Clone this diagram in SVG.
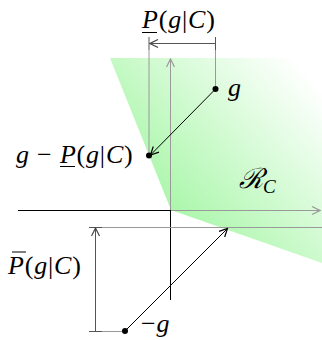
<svg xmlns="http://www.w3.org/2000/svg" width="322" height="340" viewBox="0 0 322 340">
<style>
.lbl{font-family:'Liberation Serif',serif;font-size:26px;letter-spacing:0.8px;fill:#000}
.it{font-style:italic}
.gray{stroke:#999;stroke-width:1;fill:none}
.dk{stroke:#555;stroke-width:1;fill:none}
.blk{stroke:#000;stroke-width:1;fill:none}
</style>
<defs>
<linearGradient id="gr" gradientUnits="userSpaceOnUse" x1="135" y1="215" x2="300" y2="65">
<stop offset="0" stop-color="#9ef59e"/>
<stop offset="1" stop-color="#ffffff"/>
</linearGradient>
<marker id="ag" viewBox="0 0 10 10" refX="9" refY="5" markerWidth="10" markerHeight="10" markerUnits="userSpaceOnUse" orient="auto">
<path d="M1,1 L9,5 L1,9" fill="none" stroke="#999" stroke-width="1.2"/>
</marker>
<marker id="ad" viewBox="0 0 10 10" refX="9" refY="5" markerWidth="10" markerHeight="10" markerUnits="userSpaceOnUse" orient="auto">
<path d="M1,1 L9,5 L1,9" fill="none" stroke="#444" stroke-width="1.2"/>
</marker>
<marker id="ab" viewBox="0 0 10 10" refX="9" refY="5" markerWidth="10" markerHeight="10" markerUnits="userSpaceOnUse" orient="auto">
<path d="M1,1 L9,5 L1,9" fill="none" stroke="#000" stroke-width="1.2"/>
</marker>
</defs>
<g id="region">
<polygon points="110,58 322,58 322,263 171,210" fill="url(#gr)"/>
</g>
<g id="connectors">
<line class="blk" x1="18" y1="210.5" x2="171" y2="210.5"/>
<line class="blk" x1="170.5" y1="210" x2="170.5" y2="300"/>
<line class="gray" x1="171" y1="210.5" x2="320" y2="210.5" marker-end="url(#ag)"/>
<line class="gray" x1="170.5" y1="210" x2="170.5" y2="59" marker-end="url(#ag)"/>
<line class="gray" x1="149" y1="50" x2="149" y2="156"/>
<line class="gray" x1="215.5" y1="50" x2="215.5" y2="89"/>
<line class="dk" x1="149" y1="37" x2="149" y2="50"/>
<line class="dk" x1="215.5" y1="37" x2="215.5" y2="50"/>
<line class="dk" x1="215.5" y1="43.5" x2="150" y2="43.5" marker-end="url(#ad)"/>
<line class="blk" x1="215.5" y1="89" x2="150.5" y2="155" marker-end="url(#ab)"/>
<line class="gray" x1="102" y1="227.5" x2="322" y2="227.5"/>
<line class="dk" x1="89" y1="227.5" x2="102" y2="227.5"/>
<line class="dk" x1="89" y1="331.5" x2="102" y2="331.5"/>
<line class="gray" x1="102" y1="331.5" x2="125" y2="331.5"/>
<line class="dk" x1="95.5" y1="331" x2="95.5" y2="228" marker-end="url(#ad)"/>
<line class="blk" x1="125" y1="331" x2="227.5" y2="228.5" marker-end="url(#ab)"/>
</g>
<g id="g">
<circle cx="215.5" cy="89" r="3" fill="#000"/>
<text class="lbl it" x="228" y="96">g</text>
</g>
<g id="g-minus-P">
<circle cx="149" cy="155.5" r="3" fill="#000"/>
<text class="lbl" x="16" y="163"><tspan class="it">g</tspan> − <tspan class="it">P</tspan>(<tspan class="it">g</tspan>|<tspan class="it">C</tspan>)</text>
<line x1="60" y1="166.5" x2="75" y2="166.5" stroke="#000" stroke-width="1"/>
</g>
<g id="P-lower">
<text class="lbl" x="142" y="28"><tspan class="it">P</tspan>(<tspan class="it">g</tspan>|<tspan class="it">C</tspan>)</text>
<line x1="142" y1="32.5" x2="157" y2="32.5" stroke="#000" stroke-width="1"/>
</g>
<g id="P-upper">
<text class="lbl" x="8" y="274"><tspan class="it">P</tspan>(<tspan class="it">g</tspan>|<tspan class="it">C</tspan>)</text>
<line x1="12" y1="252" x2="26" y2="252" stroke="#000" stroke-width="1"/>
</g>
<g id="minus-g">
<circle cx="125" cy="331" r="3" fill="#000"/>
<text class="lbl" x="141" y="332">−<tspan class="it">g</tspan></text>
</g>
<g id="RC">
<text x="239" y="188" font-family="DejaVu Serif, serif" font-style="italic" font-size="28" fill="#000">ℛ<tspan font-family="Liberation Serif, serif" font-size="19" dy="5">C</tspan></text>
</g>
</svg>
